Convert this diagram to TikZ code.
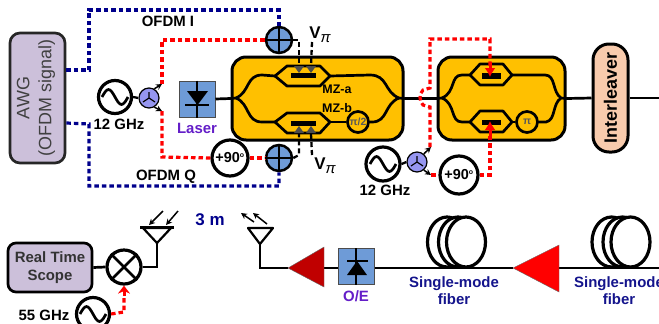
\documentclass[tikz,border=0pt]{standalone}
\usepackage{fontspec}
\setmainfont{Liberation Sans}
\usetikzlibrary{arrows.meta,calc}
\definecolor{gold}{RGB}{255,192,0}
\definecolor{awgfill}{RGB}{204,192,218}
\definecolor{bluefill}{RGB}{110,155,215}
\definecolor{splitfill}{RGB}{150,150,240}
\definecolor{peach}{RGB}{248,203,173}
\definecolor{navy1}{RGB}{0,0,140}
\definecolor{navytxt}{RGB}{20,20,140}
\definecolor{purp}{RGB}{100,30,200}
\definecolor{dred}{RGB}{192,0,0}
\tikzset{
  x=1bp,y=-1bp,
  every node/.style={font=\bfseries\fontsize{15}{17}\selectfont,inner sep=0pt,align=center},
  fib/.style={draw=black,line width=2.7bp},
  bluedash/.style={draw=navy1,line width=3.2bp,dash pattern=on 4.5bp off 3bp},
  reddash/.style={draw=red,line width=3.2bp,dash pattern=on 4.5bp off 3bp},
  blackdash/.style={draw=black,line width=2.3bp,dash pattern=on 5bp off 3bp},
  thinarrow/.style={draw=black,line width=1.5bp,-{Stealth[length=6bp,width=6bp]}},
  adder/.style={circle,draw=black,line width=2.5bp,fill=bluefill,minimum size=26bp},
  ring/.style={circle,draw=black,line width=3.2bp,fill=white,minimum size=#1},
  split/.style={circle,draw=black,line width=1.2bp,fill=splitfill,minimum size=20bp},
  phase/.style={circle,draw=black,line width=2.7bp,fill=gold,minimum size=21bp,font=\bfseries\fontsize{10.5}{11}\selectfont,text=black!65},
  module/.style={rectangle,draw=black,line width=3bp,fill=gold,rounded corners=14bp},
  iconbox/.style={rectangle,draw=black!70,line width=1bp,fill=bluefill,minimum width=36bp,minimum height=36bp},
  gate/.style={fill=black!70,draw=none},
  bar/.style={fill=black,draw=none},
  lbl/.style={text=navytxt},
  coil/.style={draw=black,line width=3.2bp,fill=white},
  vpi/.style={font=\bfseries\fontsize{17}{17}\selectfont},
  pmark/.style={font=\bfseries\fontsize{14.5}{15}\selectfont},
}
\newcommand{\sinewave}[1]{\draw[line width=2.7bp] ([xshift=-13bp]#1.center) sin ++(6.5,-7.5) cos ++(6.5,7.5) sin ++(6.5,7.5) cos ++(6.5,-7.5);}
\newcommand{\splitmark}[1]{\draw[line width=1.2bp] (#1.center)--++(0,-6) (#1.center)--++(-6,4) (#1.center)--++(6,4);}
\newcommand{\vpitext}{V\raisebox{-4bp}{\fontsize{15}{15}\selectfont\mdseries\itshape π}}
\begin{document}
\begin{tikzpicture}
\useasboundingbox (0,0) rectangle (659,323);
% --- nodes of the top row
\node[rectangle,draw=black!85,line width=2.7bp,fill=awgfill,rounded corners=10bp,minimum width=55bp,minimum height=130bp] (awg) at (37.5,98) {};
\node[rotate=90,font=\fontsize{18}{22}\selectfont,text=black!75] (awgt) at (36,98) {AWG\\(OFDM signal)};
\node[adder] (addI) at (279,40) {};
\node[adder] (addQ) at (279,158) {};
\node[ring=33bp] (src1) at (115,97) {};
\node[split] (spl1) at (149,98) {};
\node[iconbox] (laser) at (197,99) {};
\node[text=purp] (lasert) at (197,128) {Laser};
\node (f1) at (119,124) {12 GHz};
\node[ring=36bp,pmark] (ph1) at (230,158) {+90\textsuperscript{\fontsize{7}{7}\selectfont o}};
\node[module,minimum width=171bp,minimum height=83bp] (mz1) at (317.5,98.5) {};
\node[module,minimum width=127bp,minimum height=83bp] (mz2) at (501.5,98.5) {};
\node[rectangle,draw=black,line width=3bp,fill=peach,rounded corners=16bp,minimum width=35bp,minimum height=108bp] (inter) at (610.5,98) {};
\node[rotate=90,font=\bfseries\fontsize{18}{20}\selectfont] (intert) at (610.5,98) {Interleaver};
\node[ring=34bp] (src2) at (383,164) {};
\node[split] (spl2) at (417,162) {};
\node[ring=38bp,pmark] (ph2) at (459,175) {+90\textsuperscript{\fontsize{7}{7}\selectfont o}};
\node (f2) at (385,190) {12 GHz};
\node (ofdmi) at (168,21) {OFDM I};
\node (ofdmq) at (166,177) {OFDM Q};
\node[vpi] (v1) at (320,35) {\vpitext};
\node[vpi] (v2) at (325,166) {\vpitext};
% named ports
\coordinate (g1) at (299,66); \coordinate (g2) at (311,66);
\coordinate (h1) at (299,134); \coordinate (h2) at (311,134);
% AWG links
\draw[bluedash] (awg.east |- 0,70) -- (89,70) -- (89,10) -- (279,10) -- (addI.north);
\draw[bluedash] (awg.east |- 0,123) -- (89,124) -- (89,186) -- (279,186) -- (addQ.south);
% source to splitter
\draw[blackdash] (src1.east) -- (spl1.west);
\draw[thinarrow] (spl1.60) -- (162,84);
\draw[thinarrow] (spl1.-60) -- (162,111);
% red drive
\draw[reddash] (addI.west) -- (162,40) -- (162,84);
\draw[reddash] (162,111) -- (162,157) -- (ph1.west);
\draw[reddash] (ph1.east) -- (addQ.west);
% laser to modulator
\draw[fib] (laser.east) -- (mz1.west);
% MZ 1 interior
\draw[fib,line cap=round] (mz1.west) -- (236,98) .. controls (250,92) and (246,75) .. (262,75) -- (275,76);
\draw[fib,line cap=round] (236,98) .. controls (250,104) and (246,122) .. (262,122) -- (275,122);
\draw[fib,line join=round] (275,76) -- (287,66) -- (320,66) -- (330,76) -- (320,86) -- (287,86) -- cycle;
\draw[fib,line join=round] (275,122) -- (287,113) -- (320,113) -- (330,122) -- (320,133) -- (287,133) -- cycle;
\fill[bar] (291,73) rectangle (316,78);
\fill[bar] (291,121) rectangle (316,126);
\draw[fib,line cap=round] (330,76) -- (370,75) .. controls (388,75) and (384,92) .. (399,98) -- (mz1.east);
\node[phase,minimum size=21bp] (pi2) at (358,122) {π/2};
\draw[fib] (330,122) -- (pi2.west);
\draw[fib,line cap=round] (pi2.east) -- (372,122) .. controls (388,122) and (384,104) .. (399,98);
\fill[gate] (294,66) -- (304,66) -- (299,73) -- cycle;
\fill[gate] (306,66) -- (316,66) -- (311,73) -- cycle;
\fill[gate] (294,133) -- (304,133) -- (299,126) -- cycle;
\fill[gate] (306,133) -- (316,133) -- (311,126) -- cycle;
\node[font=\bfseries\fontsize{12.5}{13}\selectfont] (mza) at (337,89) {MZ-a};
\node[font=\bfseries\fontsize{12.5}{13}\selectfont] (mzb) at (337,108) {MZ-b};
% bias lines
\draw[blackdash] (addI.east) -- (299,40) -- (g1);
\draw[blackdash] (312,42) -- (g2);
\draw[blackdash] (addQ.east) -- (299,155) -- (h1);
\draw[blackdash] (312,155) -- (h2);
% MZ 1 to MZ 2 to interleaver
\draw[fib] (mz1.east) -- (mz2.west);
\draw[fib,line cap=round] (mz2.west) -- (442,98) .. controls (456,92) and (450,75) .. (462,75) -- (470,75);
\draw[fib,line cap=round] (442,98) .. controls (456,104) and (450,122) .. (462,122) -- (470,122);
\draw[fib,line join=round] (470,75) -- (480,64) -- (503,64) -- (512,75) -- (503,85) -- (480,85) -- cycle;
\draw[fib,line join=round] (470,122) -- (480,111) -- (503,111) -- (512,122) -- (503,132) -- (480,132) -- cycle;
\fill[bar] (482,73) rectangle (501,79);
\fill[bar] (482,120) rectangle (501,125);
\draw[fib,line cap=round] (512,75) -- (545,75) .. controls (556,75) and (552,92) .. (561,98) -- (mz2.east);
\node[phase] (pi1) at (527,122) {π};
\draw[fib] (512,122) -- (pi1.west);
\draw[fib,line cap=round] (pi1.east) -- (546,122) .. controls (556,120) and (552,104) .. (561,98);
\draw[fib] (mz2.east) -- (inter.west);
\draw[fib] (inter.east) -- (659,98);
% second drive
\draw[blackdash] (src2.east) -- (spl2.west);
\draw[thinarrow] (spl2.50) -- (431,147);
\draw[thinarrow] (spl2.-50) -- (431,175);
\draw[reddash] (430,147) -- (430,107) -- (423,105) .. controls (419,101) and (419,94) .. (423,90) -- (430,88) -- (430,39) -- (490,39) -- (490,66);
\draw[draw=red,line width=3bp,-{Latex[length=9bp,width=11bp]}] (490,62) -- (490,77);
\draw[reddash] (431,175) -- (ph2.west);
\draw[reddash] (ph2.east) -- (490,175) -- (490,134);
\draw[draw=red,line width=3bp,-{Latex[length=9bp,width=11bp]}] (490,136) -- (490,121);
% sources
\sinewave{src1}
\sinewave{src2}
\splitmark{spl1}
\splitmark{spl2}
% adder crosses
\foreach \n in {addI,addQ}{\draw[line width=1.8bp] (\n.north)--(\n.south) (\n.west)--(\n.east);}
% laser icon
\draw[line width=2bp] (laser.north)--(laser.south) (185,105)--(209,105);
\fill[black] (187,91)--(208,91)--(197.5,105)--cycle;
% --- bottom row
\node[rectangle,draw=black,line width=2.7bp,fill=awgfill,rounded corners=8bp,minimum width=84bp,minimum height=49bp] (scope) at (50,267.5) {};
\node[text=black!80,font=\bfseries\fontsize{15}{18.5}\selectfont] (scopet) at (50,267.5) {Real Time\\Scope};
\node[ring=34bp] (mix) at (124,267) {};
\draw[line width=2.7bp] (mix.45)--(mix.225) (mix.135)--(mix.315);
\draw[fib] (scope.east) -- (mix.west);
\node[ring=33bp] (src3) at (93,314) {};
\sinewave{src3}
\node (f3) at (44,315) {55 GHz};
\draw[reddash] (src3.east) -- (124,312) -- (124,298);
\draw[draw=red,line width=3bp,-{Stealth[length=8bp,width=12bp]}] (124,296) -- (mix.south);
% antennas
\coordinate (rxa) at (157,243); \coordinate (txa) at (260,244);
\draw[fib] (mix.east) -- (157,267) -- (rxa);
\draw[line width=2.2bp,line join=round] (rxa) -- (143,228) -- (171,228) -- cycle;
\draw[line width=3bp] (140,227) -- (174,227);
\draw[thinarrow] (163,211) -- (149,225);
\draw[thinarrow] (178,211) -- (166,225);
\node[text=navy1,font=\bfseries\fontsize{17}{17}\selectfont] (dist) at (210,220) {3 m};
\draw[line width=2.2bp,line join=round] (txa) -- (248,228) -- (273,228) -- cycle;
\draw[thinarrow] (254,222) -- (241,213);
\draw[thinarrow] (267,224) -- (253,213);
% optical line
\node[iconbox] (oe) at (356,266.5) {};
\node[text=purp] (oet) at (356,296) {O/E};
\coordinate (a1) at (288,268);
\coordinate (a2) at (513,268);
\draw[coil] (447,242) ellipse (19.5 and 25);
\draw[coil] (458,242) ellipse (19.5 and 25);
\draw[coil] (466,242) ellipse (19.5 and 25);
\draw[coil] (611.5,242) ellipse (19.5 and 25);
\draw[coil] (622.5,242) ellipse (19.5 and 25);
\draw[coil] (630.5,242) ellipse (19.5 and 25);
\draw[fib] (txa) -- (260,268) -- (a1);
\draw[fib] (324,268) -- (oe.west |- a1);
\draw[fib] (oe.east |- a2) -- (a2);
\draw[fib] (559,268) -- (659,268);
\path[fill=dred,draw=black!60,line width=.4bp] (a1) -- (324,247) -- (324,287) -- cycle;
\path[fill=red,draw=black!60,line width=.4bp] (a2) -- (559,245) -- (559,292) -- cycle;
\draw[line width=2bp] (oe.north)--(oe.south) (347,261)--(368,261);
\fill[black] (357,261)--(347,275)--(367,275)--cycle;
\node[lbl] (sm1) at (454,290.5) {\setlength{\baselineskip}{19bp}Single-mode\\fiber};
\node[lbl] (sm2) at (619,290.5) {\setlength{\baselineskip}{19bp}Single-mode\\fiber};
\end{tikzpicture}
\end{document}
